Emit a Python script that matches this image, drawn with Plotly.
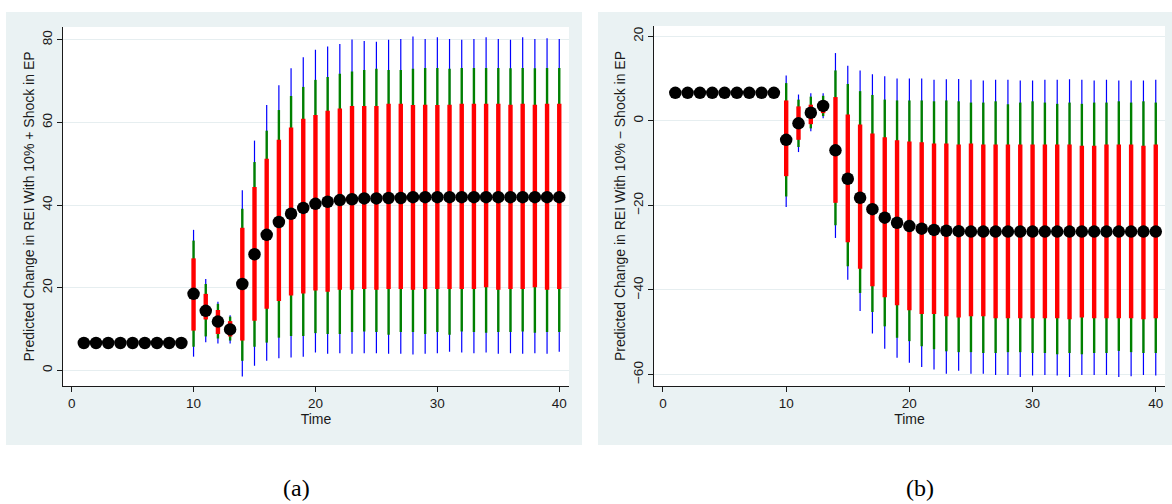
import plotly.graph_objects as go

# ---- data -------------------------------------------------------------
time = list(range(1, 41))

# Panel (a): 10% positive shock in EP
est_a = [6.6, 6.6, 6.6, 6.6, 6.6, 6.6, 6.6, 6.6, 6.6,
         18.5, 14.4, 11.8, 9.9, 20.9, 28.1, 32.8, 35.9, 37.9, 39.3, 40.3,
         40.8, 41.2, 41.4, 41.6, 41.6, 41.7, 41.7, 41.9, 41.9, 41.9,
         41.9, 41.9, 41.9, 41.9, 41.9, 41.9, 41.9, 41.9, 41.9, 41.9]
hi90_a = [None, None, None, None, None, None, None, None, None,
          27.1, 18.5, 14.6, 11.9, 34.5, 44.4, 51.2, 55.8, 58.8, 60.9, 61.8,
          62.8, 63.4, 64.0, 64.0, 64.0, 64.5, 64.5, 64.2, 64.3, 64.2,
          64.3, 64.5, 64.5, 64.5, 64.5, 64.3, 64.5, 64.3, 64.5, 64.5]
lo90_a = [None, None, None, None, None, None, None, None, None,
          9.6, 12.3, 8.8, 8.2, 7.2, 12.0, 14.9, 16.8, 18.1, 18.6, 19.3,
          19.0, 19.5, 19.5, 19.7, 19.5, 19.7, 19.7, 19.5, 19.7, 19.7,
          19.7, 19.7, 19.7, 20.1, 19.5, 19.7, 19.7, 20.1, 19.5, 19.7]
hi95_a = [None, None, None, None, None, None, None, None, None,
          31.4, 20.9, 16.1, 13.0, 39.1, 50.4, 58.0, 63.0, 66.4, 68.6, 70.3,
          71.0, 71.8, 72.3, 72.7, 73.0, 72.7, 72.7, 73.0, 73.2, 73.2,
          73.0, 73.2, 73.2, 73.2, 73.2, 73.1, 73.2, 73.1, 73.2, 73.2]
lo95_a = [None, None, None, None, None, None, None, None, None,
          5.7, 8.2, 7.7, 7.2, 2.3, 5.7, 6.7, 7.9, 8.3, 8.3, 9.0,
          8.8, 8.8, 9.3, 9.4, 9.3, 8.6, 9.3, 9.3, 8.8, 9.3,
          8.6, 9.4, 9.3, 9.1, 9.3, 9.3, 9.4, 9.1, 9.3, 9.3]
hi99_a = [None, None, None, None, None, None, None, None, None,
          34.0, 22.1, 16.6, 13.3, 43.6, 55.6, 64.2, 69.0, 73.1, 75.8, 77.6,
          78.4, 79.0, 80.1, 79.7, 79.5, 80.0, 80.2, 80.8, 80.2, 80.6,
          80.2, 80.0, 80.2, 80.6, 80.2, 80.0, 80.6, 80.2, 80.4, 80.2]
lo99_a = [None, None, None, None, None, None, None, None, None,
          3.3, 6.8, 6.5, 6.5, -1.5, 1.1, 2.3, 2.9, 3.1, 3.3, 4.3,
          4.0, 4.1, 4.0, 4.1, 4.1, 4.0, 4.0, 3.8, 4.0, 4.1,
          4.5, 4.3, 4.1, 4.3, 4.0, 4.1, 4.0, 4.1, 4.0, 4.5]

# Panel (b): 10% negative shock in EP
est_b = [6.6, 6.6, 6.6, 6.6, 6.6, 6.6, 6.6, 6.6, 6.6,
         -4.5, -0.6, 1.9, 3.5, -7.0, -13.7, -18.2, -20.9, -22.9, -24.1, -24.9,
         -25.5, -25.8, -26.0, -26.1, -26.2, -26.2, -26.2, -26.2, -26.2, -26.2,
         -26.2, -26.2, -26.2, -26.2, -26.2, -26.2, -26.2, -26.2, -26.2, -26.2]
hi90_b = [None, None, None, None, None, None, None, None, None,
          4.8, 3.4, 3.8, 4.7, 5.6, 1.5, -0.9, -3.0, -3.9, -4.6, -4.9,
          -5.1, -5.4, -5.4, -5.6, -5.4, -5.6, -5.6, -5.6, -5.6, -5.6,
          -5.6, -5.6, -5.6, -5.9, -5.9, -5.6, -5.6, -5.6, -5.9, -5.6]
lo90_b = [None, None, None, None, None, None, None, None, None,
          -13.1, -4.5, -0.8, 1.8, -19.4, -28.7, -35.0, -39.1, -41.7, -43.6, -44.8,
          -45.7, -45.7, -46.2, -46.5, -46.2, -46.2, -46.7, -46.7, -46.7, -46.7,
          -46.7, -46.7, -46.9, -46.5, -46.7, -46.7, -46.7, -46.7, -46.9, -46.7]
hi95_b = [None, None, None, None, None, None, None, None, None,
          8.9, 5.0, 5.7, 5.9, 11.9, 8.7, 7.0, 6.1, 5.0, 4.8, 4.8,
          4.8, 4.6, 4.8, 4.6, 4.3, 4.3, 4.6, 3.9, 4.3, 4.6,
          4.3, 4.0, 4.3, 4.0, 4.3, 4.3, 4.6, 4.3, 4.6, 4.3]
lo95_b = [None, None, None, None, None, None, None, None, None,
          -17.9, -6.2, -1.8, 1.1, -24.7, -34.4, -40.7, -45.2, -48.6, -51.3, -52.1,
          -53.3, -54.0, -54.5, -54.7, -54.7, -54.9, -54.9, -54.7, -54.7, -54.9,
          -54.9, -55.2, -54.9, -55.2, -54.9, -54.9, -54.4, -54.7, -54.9, -54.9]
hi99_b = [None, None, None, None, None, None, None, None, None,
          10.7, 6.2, 6.5, 6.5, 16.0, 13.0, 11.9, 11.0, 10.5, 10.0, 10.0,
          10.0, 9.7, 9.8, 9.9, 9.7, 9.5, 9.7, 9.7, 9.5, 9.5,
          9.7, 9.7, 9.8, 9.7, 9.5, 9.7, 9.5, 9.5, 9.5, 9.7]
lo99_b = [None, None, None, None, None, None, None, None, None,
          -20.4, -7.4, -2.5, 0.6, -27.7, -37.6, -45.0, -50.3, -53.9, -56.0, -57.2,
          -58.2, -58.8, -59.8, -59.1, -59.8, -59.8, -60.1, -60.1, -60.6, -60.2,
          -60.1, -60.2, -60.6, -60.1, -60.1, -60.1, -60.6, -60.4, -60.1, -60.2]

x_ticks = [0, 10, 20, 30, 40]
y_ticks_a = [0, 20, 40, 60, 80]
y_ticks_b = [-60, -40, -20, 0, 20]

# ---- style ------------------------------------------------------------
PANEL_BG = "#EAF2F3"
GRID = "#E6EEF0"
SANS = "Liberation Sans, Arial, sans-serif"
SERIF = "Liberation Serif, Times New Roman, serif"
INK = "#1a1a1a"
W, H = 1172, 504


def segments(xs, lo, hi):
    """Vertical segments from lo to hi at each x, joined with gaps."""
    sx, sy = [], []
    for x, a, b in zip(xs, lo, hi):
        if a is None or b is None:
            continue
        sx += [x, x, None]
        sy += [a, b, None]
    return sx, sy


fig = go.Figure()

panels = [
    ("x", "y", est_a, (lo99_a, hi99_a), (lo95_a, hi95_a), (lo90_a, hi90_a)),
    ("x2", "y2", est_b, (lo99_b, hi99_b), (lo95_b, hi95_b), (lo90_b, hi90_b)),
]
for xa, ya, est, b99, b95, b90 in panels:
    for (lo, hi), color, width in [(b99, "#0000FF", 1.2),
                                   (b95, "#008000", 2.4),
                                   (b90, "#FF0000", 4.4)]:
        sx, sy = segments(time, lo, hi)
        fig.add_trace(go.Scatter(x=sx, y=sy, mode="lines", xaxis=xa, yaxis=ya,
                                 line=dict(color=color, width=width),
                                 hoverinfo="skip", showlegend=False))
    fig.add_trace(go.Scatter(x=time, y=est, mode="markers", xaxis=xa, yaxis=ya,
                             marker=dict(color="black", size=12.5,
                                         line=dict(width=0)),
                             showlegend=False))


def px_x(p):
    return p / W


def px_y(p):
    return 1 - p / H


# shaded graph regions behind each panel
for x0, x1 in [(6, 582), (598, 1172)]:
    fig.add_shape(type="rect", xref="paper", yref="paper",
                  x0=px_x(x0), x1=px_x(x1), y0=px_y(445), y1=px_y(12),
                  fillcolor=PANEL_BG, line=dict(width=0), layer="below")
# white plot regions
for x0, x1, y1 in [(63, 569, 27), (654, 1165, 26)]:
    fig.add_shape(type="rect", xref="paper", yref="paper",
                  x0=px_x(x0), x1=px_x(x1), y0=px_y(386), y1=px_y(y1),
                  fillcolor="white", line=dict(width=0), layer="below")

axis_common = dict(showline=True, linecolor=INK, linewidth=1,
                   ticks="outside", ticklen=5, tickcolor=INK,
                   tickfont=dict(family=SANS, size=13.5, color=INK),
                   zeroline=False)
title_font = dict(family=SANS, size=14, color=INK)

fig.update_layout(
    width=W, height=H,
    margin=dict(l=0, r=0, t=0, b=0),
    paper_bgcolor="white",
    plot_bgcolor="rgba(0,0,0,0)",
    xaxis=dict(domain=[px_x(63), px_x(569)], range=[-0.71, 40.8],
               tickvals=x_ticks, showgrid=False, anchor="y",
               title=dict(text="Time", standoff=2, font=title_font),
               **axis_common),
    yaxis=dict(domain=[px_y(386), px_y(27)], range=[-3.8, 83.1],
               tickvals=y_ticks_a, tickangle=-90, anchor="x",
               showgrid=True, gridcolor=GRID, gridwidth=1.2,
               title=dict(text="Predicted Change in REI With 10% + Shock in EP",
                          standoff=1, font=title_font),
               **axis_common),
    xaxis2=dict(domain=[px_x(654), px_x(1165)], range=[-0.73, 40.75],
                tickvals=x_ticks, showgrid=False, anchor="y2",
                title=dict(text="Time", standoff=2, font=title_font),
                **axis_common),
    yaxis2=dict(domain=[px_y(386), px_y(26)], range=[-62.7, 22.4],
                tickvals=y_ticks_b, tickangle=-90, anchor="x2",
                showgrid=True, gridcolor=GRID, gridwidth=1.2,
                title=dict(text="Predicted Change in REI With 10% \u2212 Shock in EP",
                           standoff=1, font=title_font),
                **axis_common),
)

for label, cx in [("(a)", 296), ("(b)", 920)]:
    fig.add_annotation(text=label, x=px_x(cx), y=px_y(488), xref="paper",
                       yref="paper", showarrow=False, xanchor="center",
                       yanchor="middle",
                       font=dict(family=SERIF, size=24, color="black"))

fig.write_html("out.html")
